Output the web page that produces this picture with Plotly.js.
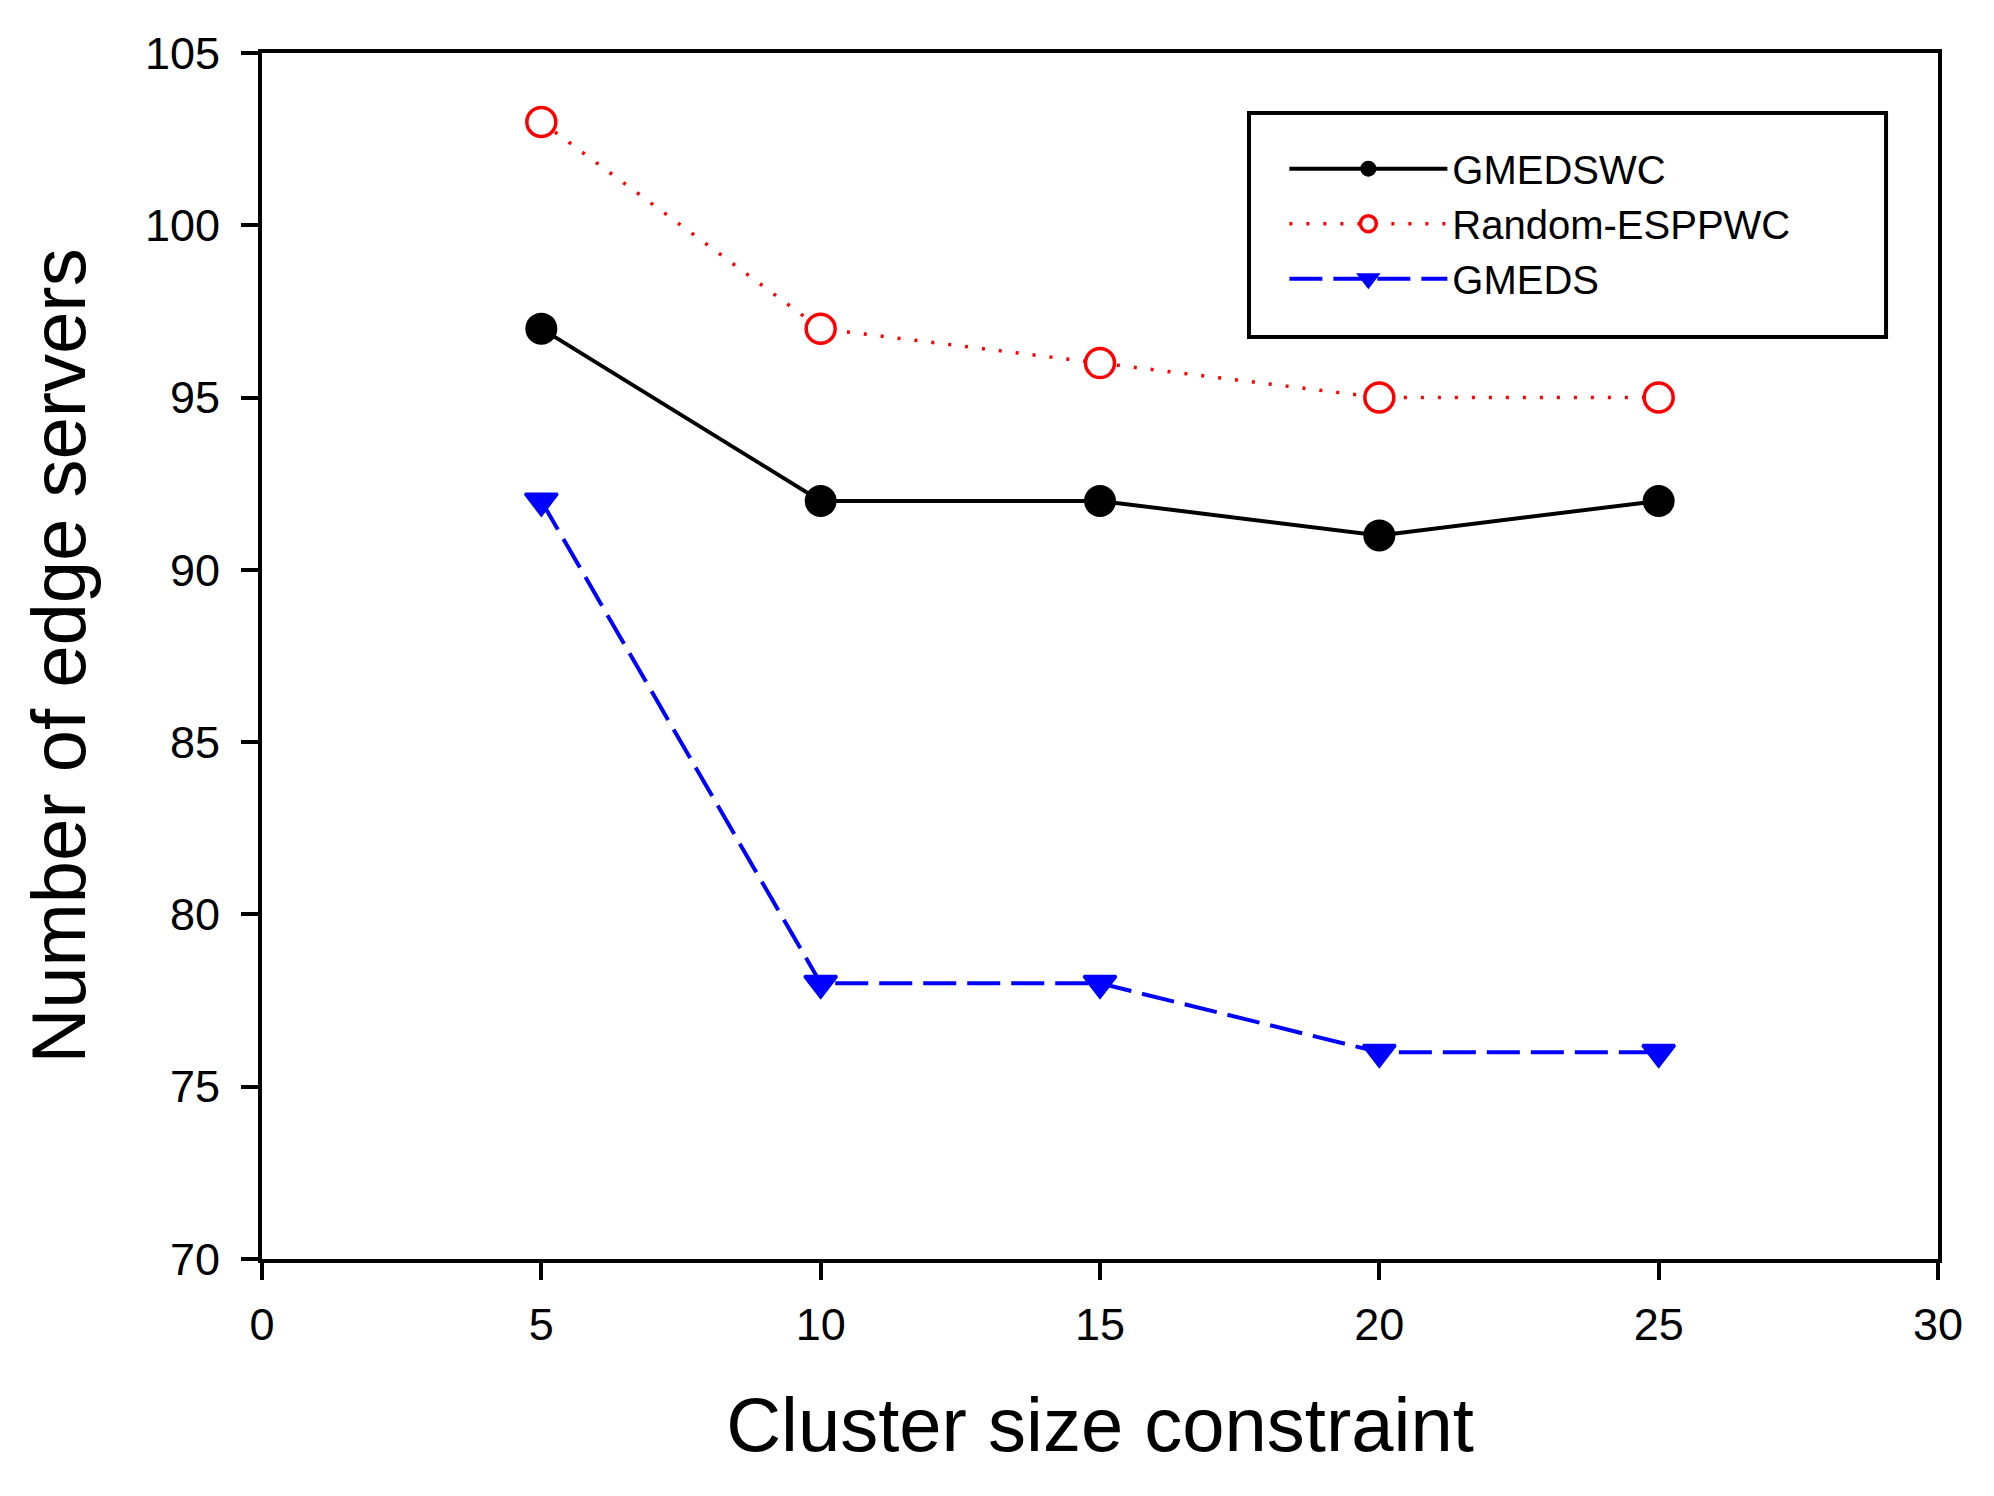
<!DOCTYPE html>
<html>
<head>
<meta charset="utf-8">
<script src="https://cdn.plot.ly/plotly-3.0.1.min.js"></script>
<style>
  html, body { margin: 0; padding: 0; background: #fff; }
  #chart { width: 1994px; height: 1496px; }
</style>
</head>
<body>
<div id="chart"></div>
<script>
// cluster size constraint values on the x axis
const clusterSizes = [5, 10, 15, 20, 25];

// number of edge servers per algorithm
const gmedswc = [97, 92, 92, 91, 92];
const randomEsppwc = [103, 97, 96, 95, 95];
const gmeds = [92, 78, 78, 76, 76];

const FONT = 'Liberation Sans, Arial, sans-serif';

const traces = [
  {
    x: clusterSizes, y: gmedswc, name: 'GMEDSWC',
    type: 'scatter', mode: 'lines+markers',
    line: { color: '#000000', width: 4 },
    marker: { symbol: 'circle', size: 32, color: '#000000' }
  },
  {
    x: clusterSizes, y: randomEsppwc, name: 'Random-ESPPWC',
    type: 'scatter', mode: 'lines+markers',
    line: { color: '#ff0000', width: 3.5, dash: '3px,14px' },
    marker: { symbol: 'circle', size: 29, color: '#ffffff', line: { color: '#ff0000', width: 3.5 } }
  },
  {
    x: clusterSizes, y: gmeds, name: 'GMEDS',
    type: 'scatter', mode: 'lines+markers',
    line: { color: '#0000ff', width: 4, dash: '33px,11px' },
    marker: { symbol: 'triangle-down', size: 28, color: '#0000ff', line: { color: '#0000ff', width: 3 } }
  }
];

const axisBase = {
  showline: true, mirror: true, linecolor: '#000', linewidth: 4,
  ticks: 'outside', ticklen: 17, tickwidth: 4, tickcolor: '#000',
  showgrid: false, zeroline: false,
  tickfont: { family: FONT, size: 45, color: '#000' },
  dtick: 5
};

const layout = {
  width: 1994, height: 1496,
  paper_bgcolor: '#fff', plot_bgcolor: '#fff',
  margin: { l: 262, r: 56, t: 53, b: 237 },
  font: { family: FONT, color: '#000' },
  xaxis: {
    ...axisBase, range: [0, 30], tick0: 0, ticklabelstandoff: 6,
    title: { text: 'Cluster size constraint', font: { family: FONT, size: 76 }, standoff: 50 }
  },
  yaxis: {
    ...axisBase, range: [70, 105], tick0: 70, ticklabelstandoff: 12,
    title: { text: 'Number of edge servers', font: { family: FONT, size: 76 }, standoff: 35 }
  },
  // legend entries from plotly, framed by a separate box shape
  legend: {
    x: 0.61, y: 0.931, xanchor: 'left', yanchor: 'top',
    bgcolor: 'rgba(0,0,0,0)', borderwidth: 0,
    font: { family: FONT, size: 40, color: '#000' },
    itemwidth: 158, tracegroupgap: 0,
    itemsizing: 'trace'
  },
  shapes: [{
    type: 'rect', xref: 'paper', yref: 'paper', layer: 'above',
    x0: 0.5889, x1: 0.969, y0: 0.7645, y1: 0.9502,
    line: { color: '#000', width: 4 }, fillcolor: 'rgba(0,0,0,0)'
  }],
  showlegend: true
};

Plotly.newPlot('chart', traces, layout, { displayModeBar: false, staticPlot: true });
</script>
</body>
</html>
